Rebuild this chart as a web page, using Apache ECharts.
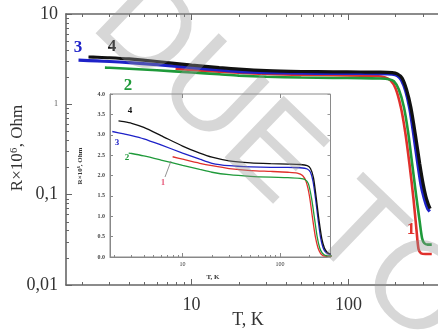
<!DOCTYPE html>
<html><head><meta charset="utf-8">
<script src="https://cdn.jsdelivr.net/npm/echarts@6/dist/echarts.min.js"></script>
<style>html,body{margin:0;padding:0;background:#fff}#c{width:438px;height:332px}</style>
</head><body><div id="c"></div>
<script>
// ---- data (T in K, R in 10^6 Ohm) ----
const T1 = [7.9, 10, 15, 20, 30, 50, 80, 120, 150, 170, 185, 200, 216, 230, 245, 260, 272, 280, 290, 310, 340];
const R1 = [2.46, 2.40, 2.30, 2.24, 2.17, 2.12, 2.10, 2.08, 2.06, 2.00, 1.85, 1.50, 0.93, 0.50, 0.22, 0.09, 0.04, 0.025, 0.0225, 0.022, 0.022];
const T2 = [2.8, 3, 4, 6, 10, 15, 20, 30, 50, 80, 120, 160, 180, 195, 210, 226, 240, 255, 270, 285, 295, 305, 320, 340];
const R2 = [2.55, 2.54, 2.48, 2.38, 2.25, 2.15, 2.08, 2.02, 1.98, 1.96, 1.95, 1.93, 1.90, 1.80, 1.45, 0.93, 0.50, 0.22, 0.10, 0.05, 0.033, 0.029, 0.028, 0.028];
const T3 = [1.9, 2.5, 3, 4, 6, 10, 15, 20, 30, 50, 80, 120, 160, 190, 205, 218, 232, 246, 260, 275, 290, 305, 320, 330];
const R3 = [3.08, 3.02, 2.98, 2.90, 2.75, 2.55, 2.40, 2.30, 2.24, 2.21, 2.20, 2.20, 2.19, 2.16, 2.08, 1.85, 1.40, 0.90, 0.48, 0.24, 0.13, 0.09, 0.07, 0.065];
const T4 = [2.2, 2.5, 3, 4, 6, 10, 15, 20, 30, 50, 80, 120, 160, 190, 205, 220, 235, 250, 268, 285, 300, 312, 322, 332];
const R4 = [3.34, 3.32, 3.28, 3.18, 2.98, 2.72, 2.55, 2.45, 2.36, 2.31, 2.29, 2.28, 2.27, 2.24, 2.17, 1.95, 1.45, 0.93, 0.45, 0.22, 0.13, 0.095, 0.08, 0.07];
const curveNames = ['1', '2', '3', '4'];

const xMajorTicks = [10, 100];
const xMajorLabels = ['10', '100'];
const xMinorTicks = [2, 3, 4, 5, 6, 7, 8, 9, 20, 30, 40, 50, 60, 70, 80, 90, 200, 300];
const yMajorTicks = [0.01, 0.1, 1, 10];
const yMajorLabels = ['0,01', '0,1', '1', '10'];
const yMinorTicks = [0.02, 0.03, 0.04, 0.05, 0.06, 0.07, 0.08, 0.09, 0.2, 0.3, 0.4, 0.5, 0.6, 0.7, 0.8, 0.9, 2, 3, 4, 5, 6, 7, 8, 9];
const insetYTicks = [0, 0.5, 1, 1.5, 2, 2.5, 3, 3.5, 4];

// ---- styles ----
const colors = ['#e0302c', '#1f9a3a', '#1e22c8', '#111111'];
const SERIF = '"Liberation Serif", "DejaVu Serif", serif';
const pairs = (T, R) => T.map((t, i) => [t, R[i]]);
const curves = [pairs(T1, R1), pairs(T2, R2), pairs(T3, R3), pairs(T4, R4)];

const MAIN = { xmin: 1.581, xmax: 372.7, ymin: 0.01, ymax: 10 };
const INSET = { xmin: 1.80, xmax: 329, ymin: 0, ymax: 4 };

function xAx(grid, lim, pos, ticks, len, labels, lineOn, fs, lineColor) {
  return {
    type: 'log', gridIndex: grid, min: lim.xmin, max: lim.xmax, position: pos,
    axisLine: { show: lineOn, onZero: false, lineStyle: { color: lineColor, width: grid === 0 ? 1.6 : 1 } },
    axisTick: { show: true, inside: true, length: len, customValues: ticks, lineStyle: { color: lineColor } },
    axisLabel: labels ? { show: true, customValues: ticks, fontFamily: SERIF, fontSize: fs, color: '#333', margin: grid === 0 ? 11 : 4,
      formatter: v => labels[ticks.indexOf(v)] !== undefined ? labels[ticks.indexOf(v)] : String(v) } : { show: false },
    splitLine: { show: false }, minorTick: { show: false }
  };
}

const option = {
  animation: false,
  backgroundColor: '#ffffff',
  grid: [
    { left: 66, top: 14, width: 382, height: 271, show: false },
    { left: 110, top: 94, width: 220.5, height: 163, show: true, backgroundColor: '#fff', borderColor: '#8a8a8a', borderWidth: 1 }
  ],
  xAxis: [
    xAx(0, MAIN, 'bottom', xMajorTicks, 6, xMajorLabels, true, 18, '#666'),
    xAx(0, MAIN, 'bottom', xMinorTicks, 3, null, false, 0, '#666'),
    xAx(0, MAIN, 'top', xMajorTicks, 6, null, true, 0, '#666'),
    xAx(0, MAIN, 'top', xMinorTicks, 3, null, false, 0, '#666'),
    xAx(1, INSET, 'bottom', xMajorTicks, 4, xMajorLabels, true, 6, '#888'),
    xAx(1, INSET, 'bottom', xMinorTicks, 2, null, false, 0, '#888'),
    xAx(1, INSET, 'top', xMajorTicks, 4, null, false, 0, '#888')
  ],
  yAxis: [
    { type: 'log', gridIndex: 0, min: MAIN.ymin, max: MAIN.ymax, position: 'left',
      axisLine: { show: true, lineStyle: { color: '#666', width: 1.6 } },
      axisTick: { show: true, inside: true, length: 6, customValues: yMajorTicks, lineStyle: { color: '#666' } },
      axisLabel: { show: true, customValues: yMajorTicks, fontFamily: SERIF, fontSize: 18, color: '#333', margin: 8,
        formatter: v => { const s = yMajorLabels[yMajorTicks.indexOf(v)] || String(v); return s === '1' ? '{s|1}' : s; },
        rich: { s: { fontSize: 8, fontFamily: SERIF, color: '#555' } } },
      splitLine: { show: false } },
    { type: 'log', gridIndex: 0, min: MAIN.ymin, max: MAIN.ymax, position: 'left',
      axisLine: { show: false }, axisLabel: { show: false }, splitLine: { show: false },
      axisTick: { show: true, inside: true, length: 3, customValues: yMinorTicks, lineStyle: { color: '#666' } } },
    { type: 'value', gridIndex: 1, min: INSET.ymin, max: INSET.ymax, interval: 0.5, position: 'left',
      axisLine: { show: true, lineStyle: { color: '#888' } },
      axisTick: { show: true, inside: true, length: 3, lineStyle: { color: '#888' } },
      axisLabel: { show: true, fontFamily: SERIF, fontSize: 6, fontWeight: 'bold', color: '#444', margin: 5, formatter: v => v.toFixed(1) },
      splitLine: { show: false } },
    { type: 'value', gridIndex: 1, min: INSET.ymin, max: INSET.ymax, interval: 0.5, position: 'right',
      axisLine: { show: false }, axisLabel: { show: false }, splitLine: { show: false },
      axisTick: { show: true, inside: true, length: 3, lineStyle: { color: '#999' } } }
  ],
  series: [
    ...curves.map((d, i) => ({ type: 'line', name: curveNames[i], xAxisIndex: 0, yAxisIndex: 0, data: d,
      showSymbol: false, smooth: 0.25, z: 2 + i, lineStyle: { color: colors[i], width: i >= 2 ? 3.2 : 2.6 } })),
    ...curves.map((d, i) => ({ type: 'line', name: 'in' + curveNames[i], xAxisIndex: 4, yAxisIndex: 2, data: d,
      showSymbol: false, smooth: 0.25, z: 2 + i, lineStyle: { color: colors[i], width: 1.3 } }))
  ],
  graphic: [
    { type: 'text', x: 248, y: 320, z: 50, style: { text: 'T, K', font: '18px ' + SERIF, fill: '#333', textAlign: 'center', align: 'center', textVerticalAlign: 'middle', verticalAlign: 'middle' } },
    { type: 'text', x: 18, y: 148, rotation: Math.PI / 2, z: 50, style: { text: 'R\u00d710\u2076, Ohm', font: '17px ' + SERIF, fill: '#333', textAlign: 'center', align: 'center', textVerticalAlign: 'middle', verticalAlign: 'middle' } },
    { type: 'text', x: 213, y: 277, z: 50, style: { text: 'T, K', font: 'bold 7px ' + SERIF, fill: '#333', textAlign: 'center', align: 'center', textVerticalAlign: 'middle', verticalAlign: 'middle' } },
    { type: 'text', x: 80, y: 166, rotation: Math.PI / 2, z: 50, style: { text: 'R\u00d710\u2076, Ohm', font: 'bold 7px ' + SERIF, fill: '#333', textAlign: 'center', align: 'center', textVerticalAlign: 'middle', verticalAlign: 'middle' } },
    // curve labels (main)
    { type: 'text', x: 78, y: 48, z: 50, style: { text: '3', font: 'bold 17px ' + SERIF, fill: colors[2], textAlign: 'center', align: 'center', textVerticalAlign: 'middle', verticalAlign: 'middle' } },
    { type: 'text', x: 112, y: 47, z: 50, style: { text: '4', font: 'bold 17px ' + SERIF, fill: colors[3], textAlign: 'center', align: 'center', textVerticalAlign: 'middle', verticalAlign: 'middle' } },
    { type: 'text', x: 128, y: 86, z: 50, style: { text: '2', font: 'bold 17px ' + SERIF, fill: colors[1], textAlign: 'center', align: 'center', textVerticalAlign: 'middle', verticalAlign: 'middle' } },
    { type: 'text', x: 411, y: 230, z: 50, style: { text: '1', font: 'bold 17px ' + SERIF, fill: colors[0], textAlign: 'center', align: 'center', textVerticalAlign: 'middle', verticalAlign: 'middle' } },
    // curve labels (inset)
    { type: 'text', x: 130, y: 111, z: 50, style: { text: '4', font: 'bold 9px ' + SERIF, fill: colors[3], textAlign: 'center', align: 'center', textVerticalAlign: 'middle', verticalAlign: 'middle' } },
    { type: 'text', x: 117, y: 143, z: 50, style: { text: '3', font: 'bold 9px ' + SERIF, fill: colors[2], textAlign: 'center', align: 'center', textVerticalAlign: 'middle', verticalAlign: 'middle' } },
    { type: 'text', x: 127, y: 158, z: 50, style: { text: '2', font: 'bold 9px ' + SERIF, fill: colors[1], textAlign: 'center', align: 'center', textVerticalAlign: 'middle', verticalAlign: 'middle' } },
    { type: 'text', x: 163, y: 183, z: 50, style: { text: '1', font: 'bold 9px ' + SERIF, fill: '#e86080', textAlign: 'center', align: 'center', textVerticalAlign: 'middle', verticalAlign: 'middle' } },
    { type: 'line', z: 50, shape: { x1: 165, y1: 177, x2: 171, y2: 161 }, style: { stroke: '#777', lineWidth: 0.8 } },
    // watermark
    { type: 'text', x: 280, y: 163, rotation: -0.765, z: 100, style: { text: 'DUE TO', font: '124px "Liberation Sans", Arial, sans-serif', fill: 'rgba(150,150,150,0.38)', textAlign: 'center', align: 'center', textVerticalAlign: 'middle', verticalAlign: 'middle' } }
  ]
};
const chart = echarts.init(document.getElementById('c'), null, { renderer: 'canvas' });
chart.setOption(option);
</script></body></html>
